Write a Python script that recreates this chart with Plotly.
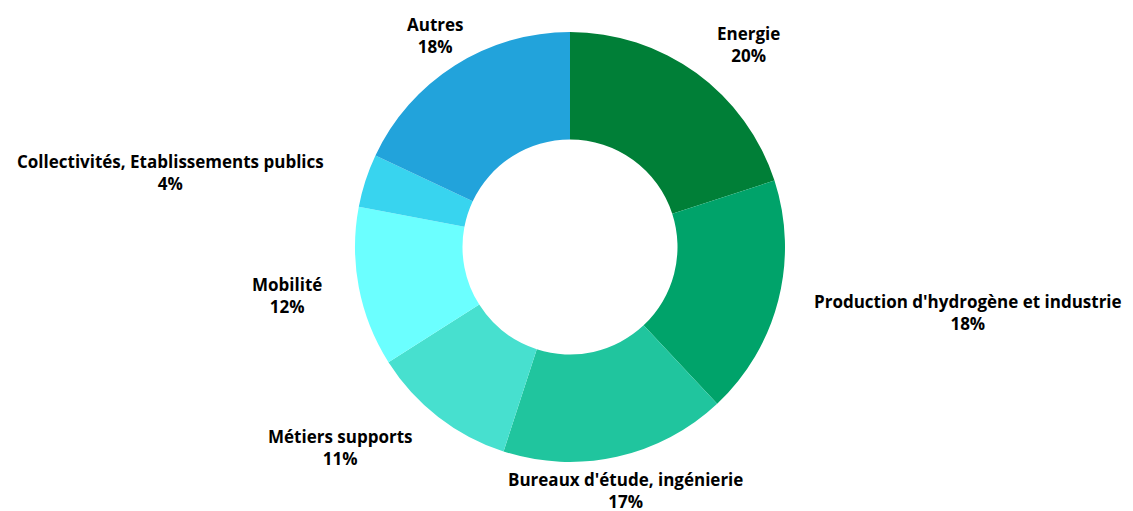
import plotly.graph_objects as go

labels = ["Energie", "Production d'hydrogène et industrie", "Bureaux d'étude, ingénierie",
          "Métiers supports", "Mobilité", "Collectivités, Etablissements publics", "Autres"]
values = [20, 18, 17, 11, 12, 4, 18]
colors = ["#007F37", "#00A36A", "#20C59E", "#47E0CF", "#6BFFFF", "#38D4EF", "#22A3DB"]
# label centres in pixels (x from left, y from top)
label_pos = [(740, 37), (960, 304), (617, 482), (332, 439), (279, 287), (162, 164), (427, 27)]

W, H = 1133, 511
cx, cy, r = 562, 239, 215

fig = go.Figure(go.Pie(
    labels=labels,
    values=values,
    sort=False,
    direction="clockwise",
    rotation=0,
    hole=0.5,
    marker=dict(colors=colors, line=dict(width=0)),
    textinfo="none",
    hoverinfo="label+percent",
    automargin=False,
    showlegend=False,
    domain=dict(x=[(cx - r) / W, (cx + r) / W], y=[(H - cy - r) / H, (H - cy + r) / H]),
))

total = sum(values)
for lab, v, (px, py) in zip(labels, values, label_pos):
    fig.add_annotation(
        x=px / W, y=1 - py / H, xref="paper", yref="paper",
        xanchor="center", yanchor="middle", showarrow=False,
        text=f"<b>{lab}</b><br><b>{round(100 * v / total)}%</b>",
        align="center",
        font=dict(family="Open Sans", size=17, color="#000000"),
    )

fig.update_layout(
    width=W, height=H,
    margin=dict(l=0, r=0, t=0, b=0),
    paper_bgcolor="white", plot_bgcolor="white",
    showlegend=False,
)
fig.write_html("out.html")
